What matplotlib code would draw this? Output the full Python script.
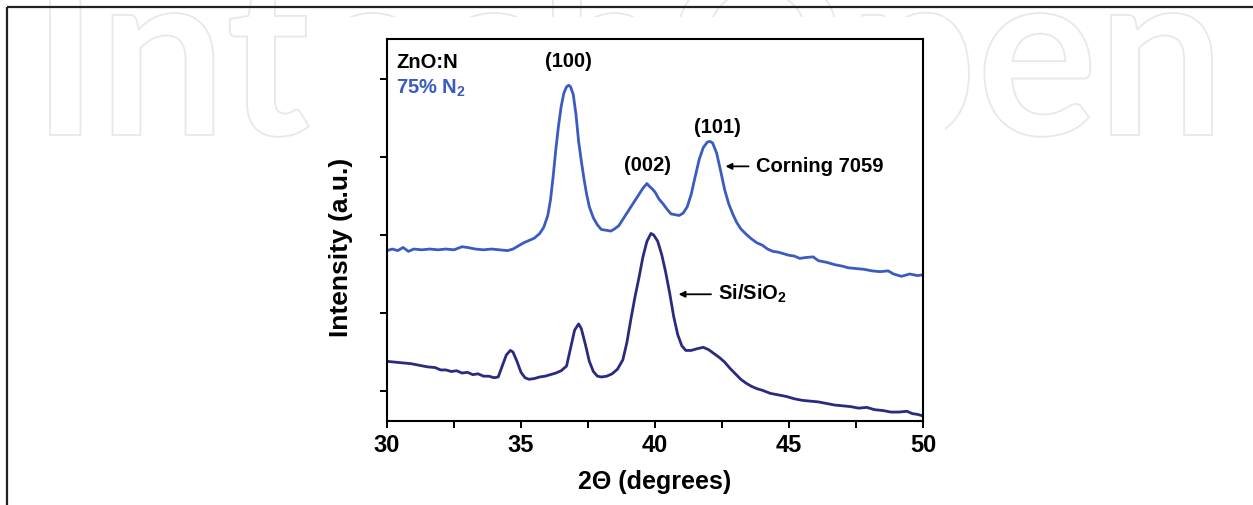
import matplotlib
matplotlib.use("Agg")
import matplotlib.pyplot as plt
from matplotlib.font_manager import FontProperties
from matplotlib.patches import PathPatch, Rectangle
from matplotlib.textpath import TextPath
from matplotlib.transforms import Affine2D
from matplotlib.ticker import MultipleLocator

plt.rcParams["font.family"] = ["Liberation Sans", "DejaVu Sans"]
plt.rcParams["font.weight"] = "bold"
plt.rcParams["mathtext.fontset"] = "custom"
plt.rcParams["mathtext.rm"] = "Liberation Sans:bold"
plt.rcParams["mathtext.it"] = "Liberation Sans:bold"
plt.rcParams["mathtext.bf"] = "Liberation Sans:bold"

# XRD scans, intensity in tick units (a.u.)
TTH_N2 = [30.0, 30.2, 30.4, 30.6, 30.8, 31.0, 31.3, 31.6, 31.9, 32.2, 32.5,
          32.8, 33.0, 33.3, 33.6, 33.9, 34.2, 34.5, 34.7, 34.9, 35.1, 35.3,
          35.5, 35.7, 35.85, 36.0, 36.1, 36.2, 36.3, 36.4, 36.5, 36.6, 36.7,
          36.78, 36.85, 36.95, 37.05, 37.15, 37.25, 37.35, 37.45, 37.55,
          37.7, 37.85, 38.0, 38.2, 38.35, 38.5, 38.65, 38.8, 38.95, 39.1,
          39.25, 39.4, 39.55, 39.7, 39.8, 39.9, 40.0, 40.15, 40.3, 40.45,
          40.6, 40.75, 40.9, 41.05, 41.2, 41.35, 41.5, 41.65, 41.8, 41.95,
          42.05, 42.15, 42.3, 42.45, 42.6, 42.75, 42.9, 43.05, 43.2, 43.4,
          43.6, 43.8, 44.0, 44.2, 44.4, 44.6, 44.8, 45.0, 45.2, 45.4, 45.6,
          45.9, 46.1, 46.4, 46.7, 47.0, 47.2, 47.5, 47.8, 48.1, 48.4, 48.7,
          48.9, 49.2, 49.5, 49.8, 50.0]
INT_N2 = [2.80, 2.82, 2.80, 2.84, 2.79, 2.82, 2.81, 2.82, 2.81, 2.82, 2.81,
          2.85, 2.84, 2.82, 2.81, 2.82, 2.81, 2.80, 2.82, 2.86, 2.90, 2.93,
          2.96, 3.02, 3.10, 3.25, 3.45, 3.75, 4.10, 4.40, 4.65, 4.82, 4.90,
          4.92, 4.90, 4.80, 4.55, 4.20, 3.95, 3.72, 3.52, 3.36,
          3.22, 3.13, 3.07, 3.06, 3.05, 3.08, 3.12, 3.20, 3.28, 3.36,
          3.44, 3.52, 3.60, 3.66, 3.62, 3.59, 3.55, 3.46, 3.40, 3.33,
          3.27, 3.26, 3.25, 3.28, 3.36, 3.52, 3.75, 3.97, 4.12, 4.19,
          4.20, 4.18, 4.05, 3.82, 3.58, 3.40, 3.27, 3.16, 3.08, 3.01,
          2.95, 2.90, 2.87, 2.82, 2.79, 2.78, 2.76, 2.74, 2.73, 2.70, 2.71,
          2.72, 2.67, 2.65, 2.62, 2.60, 2.58, 2.57, 2.56, 2.54, 2.53, 2.54,
          2.50, 2.47, 2.50, 2.48, 2.49]

TTH_SI = [30.0, 30.3, 30.6, 30.9, 31.2, 31.5, 31.8, 32.0, 32.2, 32.4, 32.6,
          32.8, 33.0, 33.2, 33.4, 33.6, 33.8, 34.0, 34.15, 34.3, 34.45, 34.6,
          34.7, 34.85, 35.0, 35.15, 35.3, 35.5, 35.7, 35.9, 36.1, 36.3, 36.5,
          36.7, 36.85, 37.0, 37.15, 37.25, 37.4, 37.55, 37.7, 37.85, 38.0,
          38.2, 38.4, 38.6, 38.8, 38.95, 39.1, 39.25, 39.4, 39.55, 39.7,
          39.85, 39.95, 40.1, 40.25, 40.4, 40.55, 40.7, 40.85, 41.0, 41.15,
          41.35, 41.55, 41.8, 42.0, 42.2, 42.4, 42.6, 42.8, 43.0, 43.2, 43.4,
          43.6, 43.8, 44.0, 44.3, 44.6, 44.9, 45.2, 45.5, 45.8, 46.1, 46.4,
          46.7, 47.0, 47.3, 47.6, 47.9, 48.2, 48.5, 48.8, 49.1, 49.4, 49.6,
          49.8, 50.0]
INT_SI = [1.38, 1.37, 1.36, 1.35, 1.33, 1.31, 1.30, 1.27, 1.27, 1.25, 1.26,
          1.23, 1.24, 1.21, 1.22, 1.19, 1.19, 1.17, 1.18, 1.32, 1.46, 1.52,
          1.50, 1.38, 1.24, 1.17, 1.15, 1.16, 1.18, 1.19, 1.21, 1.23, 1.26,
          1.32, 1.55, 1.78, 1.86, 1.80, 1.60, 1.38, 1.25, 1.19, 1.18,
          1.19, 1.22, 1.28, 1.40, 1.62, 1.92, 2.20, 2.45, 2.72, 2.92,
          3.02, 3.00, 2.92, 2.75, 2.52, 2.25, 1.95, 1.72, 1.58, 1.52,
          1.52, 1.54, 1.56, 1.53, 1.48, 1.43, 1.37, 1.29, 1.22, 1.15, 1.10,
          1.06, 1.03, 1.01, 0.97, 0.95, 0.93, 0.90, 0.88, 0.87, 0.86, 0.84,
          0.82, 0.81, 0.80, 0.78, 0.79, 0.76, 0.75, 0.73, 0.73, 0.74, 0.71,
          0.70, 0.68]

PEAKS = ["(100)", "(002)", "(101)"]
PEAK_POS = [(36.78, 5.23), (39.72, 3.89), (42.32, 4.38)]
X_TICKS = [30, 35, 40, 45, 50]

BLUE = "#3a5bbf"
NAVY = "#2a2a7e"
MARK = "#e8e8e8"

W, H = 1253, 505
fig = plt.figure(figsize=(W / 100, H / 100), dpi=100)

# page layer: outlined watermark, frame, white panel behind the plot
bg = fig.add_axes([0, 0, 1, 1], zorder=0)
bg.set_xlim(0, W)
bg.set_ylim(H, 0)
bg.axis("off")

prop = FontProperties(family="Lato")
word = TextPath((0, 0), "IntechOpen", size=1, prop=prop)
xh = TextPath((0, 0), "n", size=1, prop=prop).get_extents().height
ext = word.get_extents()
sy = 122 / xh
sx = (1212 - 50) / ext.width
tr = Affine2D().translate(-ext.x0, 0).scale(sx, -sy).translate(50, 135)
bg.add_patch(PathPatch(tr.transform_path(word), facecolor="white",
                       edgecolor=MARK, lw=1.3))
bg.add_patch(Rectangle((316, 17), 945 - 316, H - 17, facecolor="white",
                       edgecolor="none"))
bg.plot([7, 7], [7, H], color="#222222", lw=1.6, solid_capstyle="butt")
bg.plot([7, W], [7, 7], color="#222222", lw=1.6, solid_capstyle="butt")

ax = fig.add_axes([387 / W, 1 - 421 / H, (923 - 387) / W, (421 - 39) / H],
                  zorder=2)
ax.set_facecolor("white")
ax.plot(TTH_N2, INT_N2, color=BLUE, lw=2.0)
ax.plot(TTH_SI, INT_SI, color=NAVY, lw=2.0)

ax.set_xlim(30, 50)
ax.set_ylim(1 - 30 / 78, 1 + (421 - 39 - 30) / 78)
ax.set_xticks(X_TICKS)
ax.xaxis.set_minor_locator(MultipleLocator(2.5))
ax.set_yticks([1, 2, 3, 4, 5])
ax.tick_params(axis="y", which="major", direction="out", length=5, width=1.4,
               labelleft=False)
ax.tick_params(axis="x", which="both", direction="out", length=5, width=1.4,
               labelsize=17, pad=4)
for lab in ax.get_xticklabels():
    lab.set_fontweight("bold")
for s in ax.spines.values():
    s.set_linewidth(1.5)

ax.set_xlabel("2\u0398 (degrees)", fontsize=18, fontweight="bold", labelpad=10)
ax.set_ylabel("Intensity (a.u.)", fontsize=19, fontweight="bold")
ax.yaxis.set_label_coords(-0.063, 0.455)

ax.text(30.35, 5.21, "ZnO:N", fontsize=14.5, fontweight="bold", color="black",
        ha="left", va="center")
ax.text(30.35, 4.88, "75% N$_2$", fontsize=14.5, fontweight="bold", color=BLUE,
        ha="left", va="center")
for lab, (px, py) in zip(PEAKS, PEAK_POS):
    ax.text(px, py, lab, fontsize=14.5, fontweight="bold", ha="center",
            va="center")

arrow = dict(arrowstyle="-|>", color="black", lw=1.3, shrinkA=3, shrinkB=0,
             mutation_scale=9)
ax.annotate("Corning 7059", xy=(42.63, 3.88), xytext=(43.75, 3.88),
            fontsize=14.5, fontweight="bold", ha="left", va="center",
            arrowprops=arrow)
ax.annotate("Si/SiO$_2$", xy=(40.88, 2.24), xytext=(42.35, 2.24),
            fontsize=14.5, fontweight="bold", ha="left", va="center",
            arrowprops=arrow)

fig.savefig("out.png", dpi=100, facecolor="white")
